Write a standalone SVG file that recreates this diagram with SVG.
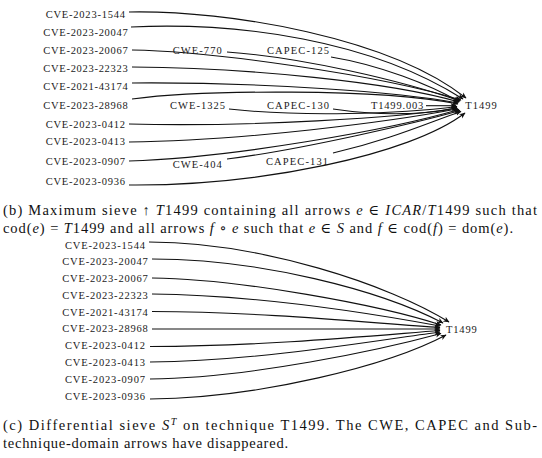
<svg xmlns="http://www.w3.org/2000/svg" width="542" height="458" viewBox="0 0 542 458">
<style>
.lbl{font-family:"Liberation Serif","DejaVu Serif",serif;font-size:10.5px;fill:#1a1a1a}
.cap{font-family:"Liberation Serif","DejaVu Serif",serif;font-size:14.5px;fill:#111}
.it{font-style:italic}
.e{fill:none;stroke:#111;stroke-width:1.1;marker-end:url(#ah)}
</style>
<defs>
<marker id="ah" markerWidth="7" markerHeight="6" refX="5.5" refY="3" orient="auto" markerUnits="userSpaceOnUse">
<path d="M0,0.3 L6,3 L0,5.7 L1.6,3 z" fill="#111"/>
</marker>
</defs>
<rect width="542" height="458" fill="#fff"/>

<!-- Diagram (b) -->
<g id="b-edges">
<path class="e" d="M129,12 C230,10 390,38 466,98"/>
<path class="e" d="M131,27 C240,22 370,40 463,99"/>
<path class="e" d="M132,50 C210,51 380,75 461,100"/>
<path class="e" d="M227,52 C300,57 400,80 460,101"/>
<path class="e" d="M331,57 C380,65 430,85 459,101.5"/>
<path class="e" d="M132,67 C250,68 390,82 459,102"/>
<path class="e" d="M132,83 C260,82 400,92 458,103"/>
<path class="e" d="M132,99 C200,90 380,88 458,104"/>
<path class="e" d="M229,109 C300,117 400,114 457,106.5"/>
<path class="e" d="M333,109 C380,116 430,115 457,107.2"/>
<path class="e" d="M426,105.7 L456,105.7"/>
<path class="e" d="M129,124 C250,127 400,118 457,108"/>
<path class="e" d="M129,142 C240,141 390,122 458,108.8"/>
<path class="e" d="M129,161 C230,158 390,130 459,109.5"/>
<path class="e" d="M227,159 C300,150 420,122 460,110.5"/>
<path class="e" d="M333,153 C390,140 430,122 461,111.5"/>
<path class="e" d="M129,185 C260,186 410,155 465,113"/>
</g>
<g id="b-cve-2023-1544"><text class="lbl" x="45.7" y="17.8" textLength="79.3">CVE-2023-1544</text></g>
<g id="b-cve-2023-20047"><text class="lbl" x="43.3" y="35.8" textLength="84.4">CVE-2023-20047</text></g>
<g id="b-cve-2023-20067"><text class="lbl" x="43.3" y="54.2" textLength="84.4">CVE-2023-20067</text></g>
<g id="b-cve-2023-22323"><text class="lbl" x="43.3" y="71.8" textLength="84.4">CVE-2023-22323</text></g>
<g id="b-cve-2021-43174"><text class="lbl" x="43.3" y="90.2" textLength="84.4">CVE-2021-43174</text></g>
<g id="b-cve-2023-28968"><text class="lbl" x="43.3" y="109.2" textLength="84.4">CVE-2023-28968</text></g>
<g id="b-cve-2023-0412"><text class="lbl" x="45.7" y="127.5" textLength="79.3">CVE-2023-0412</text></g>
<g id="b-cve-2023-0413"><text class="lbl" x="45.7" y="145.2" textLength="79.3">CVE-2023-0413</text></g>
<g id="b-cve-2023-0907"><text class="lbl" x="45.7" y="165.2" textLength="79.3">CVE-2023-0907</text></g>
<g id="b-cve-2023-0936"><text class="lbl" x="45.7" y="185.2" textLength="79.3">CVE-2023-0936</text></g>
<g id="b-cwe-770"><text class="lbl" x="172.7" y="54.2" textLength="49">CWE-770</text></g>
<g id="b-cwe-1325"><text class="lbl" x="170" y="109.2" textLength="55">CWE-1325</text></g>
<g id="b-cwe-404"><text class="lbl" x="172.7" y="167.5" textLength="49">CWE-404</text></g>
<g id="b-capec-125"><text class="lbl" x="267" y="54.2" textLength="62">CAPEC-125</text></g>
<g id="b-capec-130"><text class="lbl" x="267" y="109.2" textLength="62">CAPEC-130</text></g>
<g id="b-capec-131"><text class="lbl" x="266" y="165.2" textLength="62">CAPEC-131</text></g>
<g id="b-t1499-003"><text class="lbl" x="371" y="109.2" textLength="52.3">T1499.003</text></g>
<g id="b-t1499"><text class="lbl" x="465.3" y="109.2" textLength="31.4">T1499</text></g>

<g id="b-caption">
<text class="cap" x="3" y="214.5" textLength="534">(b) Maximum sieve ↑ <tspan class="it">T</tspan>1499 containing all arrows <tspan class="it">e</tspan> ∈ <tspan class="it">ICAR</tspan>/<tspan class="it">T</tspan>1499 such that</text>
<text class="cap" x="3" y="232.5" textLength="510">cod(<tspan class="it">e</tspan>) = <tspan class="it">T</tspan>1499 and all arrows <tspan class="it">f</tspan> ∘ <tspan class="it">e</tspan> such that <tspan class="it">e</tspan> ∈ <tspan class="it">S</tspan> and <tspan class="it">f</tspan> ∈ cod(<tspan class="it">f</tspan>) = dom(<tspan class="it">e</tspan>).</text>
</g>

<!-- Diagram (c) -->
<g id="c-edges">
<path class="e" d="M149,242 C260,242 390,285 449,322"/>
<path class="e" d="M152,259 C260,259 380,290 443,323"/>
<path class="e" d="M152,278 C240,279 380,305 441,325"/>
<path class="e" d="M152,294 C260,295 380,315 440,326"/>
<path class="e" d="M152,311.5 C270,312 380,324 440,327.5"/>
<path class="e" d="M152,329 L440,329"/>
<path class="e" d="M150,346.5 C270,346 380,335 440,330.5"/>
<path class="e" d="M150,362 C260,361 380,340 440,332"/>
<path class="e" d="M150,379 C250,378 380,350 441,333.5"/>
<path class="e" d="M150,399 C260,398 390,365 446,335"/>
</g>
<g id="c-cve-2023-1544"><text class="lbl" x="65" y="249.2" textLength="80">CVE-2023-1544</text></g>
<g id="c-cve-2023-20047"><text class="lbl" x="62.3" y="264.5" textLength="85.5">CVE-2023-20047</text></g>
<g id="c-cve-2023-20067"><text class="lbl" x="62.3" y="281.8" textLength="85.5">CVE-2023-20067</text></g>
<g id="c-cve-2023-22323"><text class="lbl" x="62.3" y="299.2" textLength="85.5">CVE-2023-22323</text></g>
<g id="c-cve-2021-43174"><text class="lbl" x="62.3" y="316.2" textLength="85.5">CVE-2021-43174</text></g>
<g id="c-cve-2023-28968"><text class="lbl" x="62.3" y="331.8" textLength="85.5">CVE-2023-28968</text></g>
<g id="c-cve-2023-0412"><text class="lbl" x="65" y="348.5" textLength="80">CVE-2023-0412</text></g>
<g id="c-cve-2023-0413"><text class="lbl" x="65" y="365.8" textLength="80">CVE-2023-0413</text></g>
<g id="c-cve-2023-0907"><text class="lbl" x="65" y="382.8" textLength="80">CVE-2023-0907</text></g>
<g id="c-cve-2023-0936"><text class="lbl" x="65" y="399.5" textLength="80">CVE-2023-0936</text></g>
<g id="c-t1499"><text class="lbl" x="446" y="332.5" textLength="30.7">T1499</text></g>

<g id="c-caption">
<text class="cap" x="3" y="429.5" textLength="534">(c) Differential sieve <tspan class="it">S</tspan><tspan class="it" font-size="10" dy="-5">T</tspan><tspan dy="5"> on technique T1499.  The CWE, CAPEC and Sub-</tspan></text>
<text class="cap" x="3" y="447.5" textLength="285">technique-domain arrows have disappeared.</text>
</g>
</svg>
